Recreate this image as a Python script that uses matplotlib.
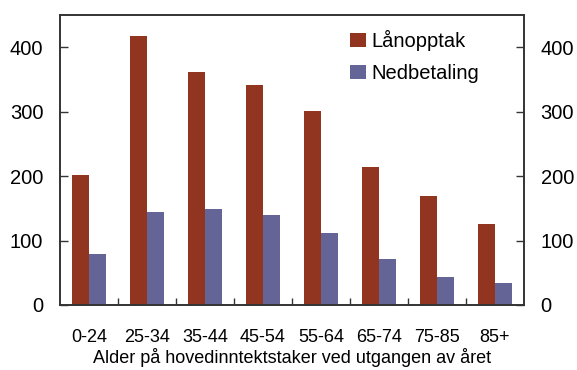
import numpy as np
import matplotlib.pyplot as plt

plt.rcParams['font.family'] = ['Liberation Sans', 'DejaVu Sans']

# Age groups and amounts
age_groups = ["0-24", "25-34", "35-44", "45-54", "55-64", "65-74", "75-85", "85+"]
laanopptak = [202, 417, 361, 341, 301, 214, 169, 126]
nedbetaling = [79, 144, 149, 140, 112, 71, 43, 34]

fig = plt.figure(figsize=(5.77, 3.70), dpi=100)
ax = fig.add_axes([60 / 577, 65 / 370, 464 / 577, 290 / 370])

x = np.arange(len(age_groups))
w = 0.293
ax.bar(x - w / 2, laanopptak, w, color="#923520", label="Lånopptak")
ax.bar(x + w / 2, nedbetaling, w, color="#646496", label="Nedbetaling")

ax.set_xlim(-0.5, len(age_groups) - 0.5)
ax.set_ylim(0, 450)
ax.set_yticks([0, 100, 200, 300, 400])

# category labels without ticks, short ticks between groups
ax.set_xticks(x)
ax.set_xticklabels(age_groups, fontsize=13)
ax.tick_params(axis="x", which="major", length=0, pad=17)
ax.set_xticks(x[:-1] + 0.5, minor=True)
ax.tick_params(axis="x", which="minor", direction="in", length=5, width=1, color="#333333")
ax.tick_params(axis="y", direction="in", length=6, width=1, color="#333333",
               labelsize=14.5, pad=12)
ax.set_xlabel("Alder på hovedinntektstaker ved utgangen av året", fontsize=13, labelpad=2)

ax2 = ax.twinx()
ax2.set_ylim(ax.get_ylim())
ax2.set_yticks([0, 100, 200, 300, 400])
ax2.tick_params(axis="y", direction="in", length=6, width=1, color="#333333",
                labelsize=14.5, pad=12)

for a in (ax, ax2):
    for s in a.spines.values():
        s.set_linewidth(1.2)
        s.set_color("#333333")

ax.legend(loc="upper left", bbox_to_anchor=(0.6, 0.99), frameon=False, fontsize=14.5,
          handlelength=0.75, handleheight=0.75, handletextpad=0.3, labelspacing=0.65,
          borderaxespad=0.2)

fig.savefig("out.png", dpi=100)
